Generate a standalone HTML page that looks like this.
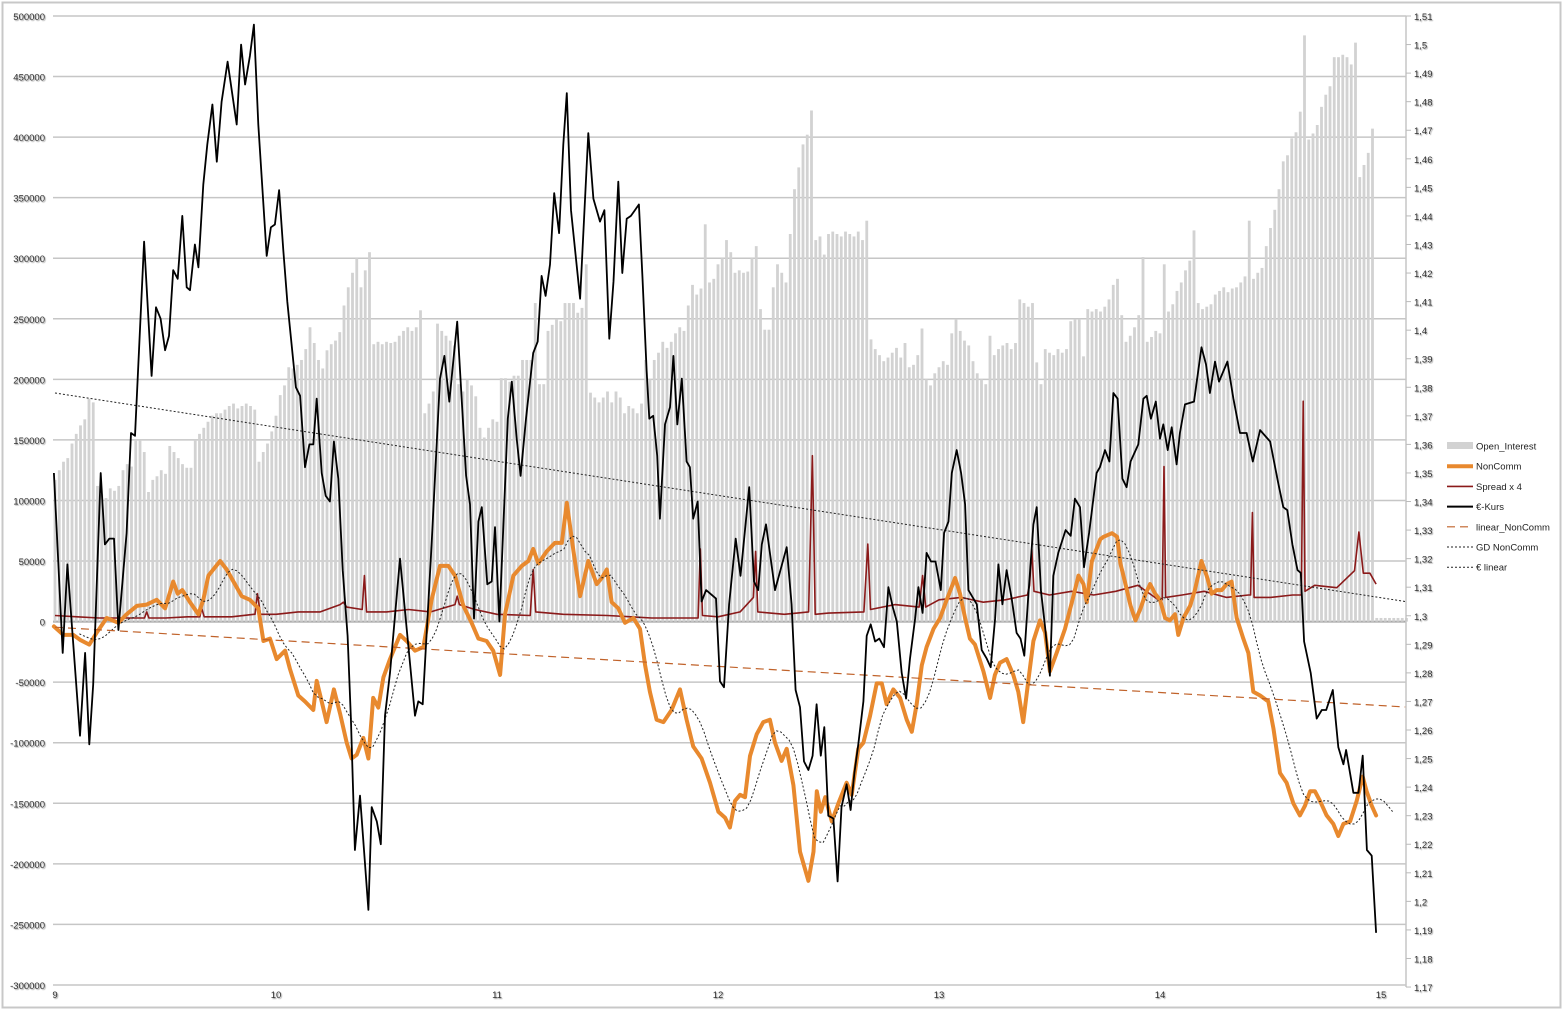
<!DOCTYPE html>
<html><head><meta charset="utf-8"><style>
html,body{margin:0;padding:0;background:#fff;}
svg{display:block;font-family:"Liberation Sans",sans-serif;}
</style></head><body>
<svg id="chart" width="1564" height="1012" viewBox="0 0 1564 1012" xmlns="http://www.w3.org/2000/svg">
<rect x="2.5" y="2.5" width="1558" height="1005" fill="#fff" stroke="#c8c8c8" stroke-width="2"/>
<g id="grid"></g>
<g id="bars"></g>
<g id="lines"></g>
<g id="axes"></g>
<g id="legend"></g>
</svg>
<script>
// ---- data ----
const leftTicks = [500000,450000,400000,350000,300000,250000,200000,150000,100000,50000,0,-50000,-100000,-150000,-200000,-250000,-300000];
const rightTicks = [1.51,1.50,1.49,1.48,1.47,1.46,1.45,1.44,1.43,1.42,1.41,1.40,1.39,1.38,1.37,1.36,1.35,1.34,1.33,1.32,1.31,1.30,1.29,1.28,1.27,1.26,1.25,1.24,1.23,1.22,1.21,1.20,1.19,1.18,1.17];
const xTicks = [9,10,11,12,13,14,15];
const oiStartYear = 9;
const oiValues = [117,125,132,135,147,155,162,167,184,181,112,105,102,110,108,112,125,130,128,150,150,140,107,117,120,125,122,145,140,135,130,127,127,150,155,160,165,170,172,172,175,178,180,176,178,180,178,175,132,140,147,157,
170,187,195,210,209,212,216,225,243,230,216,209,224,229,232,239,261,276,288,300,276,290,305,229,231,229,231,230,231,236,240,243,240,243,257,172,180,190,246,240,236,232,228,196,190,200,195,186,160,152,160,167,
165,201,201,198,203,203,216,216,216,263,196,196,240,245,250,248,263,263,263,255,259,295,189,185,181,185,190,181,190,185,172,178,176,172,180,216,200,216,222,231,226,231,238,243,240,261,278,270,275,328,280,283,
295,300,315,305,288,290,288,289,300,310,258,241,241,276,295,288,280,320,357,375,394,402,422,315,318,303,320,322,320,318,322,320,318,322,315,331,233,225,220,215,218,222,226,218,230,210,212,220,242,200,195,205,
210,215,212,238,250,240,232,228,215,205,200,196,236,220,225,228,230,225,230,266,263,260,263,214,196,225,222,220,225,222,225,248,250,250,219,258,256,258,256,260,266,278,283,253,231,236,243,253,301,231,235,240,
238,295,256,262,273,280,290,298,323,263,258,260,262,270,273,276,272,275,276,280,285,331,283,288,292,310,325,340,357,380,385,399,404,421,484,398,403,410,425,435,442,466,466,468,466,460,478,367,377,387,407,
3,3,3,3,3,3,3,3];
const euroDates = [8.995,9.035,9.056,9.113,9.136,9.155,9.173,9.207,9.226,9.246,9.267,9.287,9.324,9.344,9.362,9.403,9.437,9.457,9.478,9.498,9.516,9.535,9.555,9.576,9.596,9.611,9.633,9.649,9.671,9.689,9.712,9.732,9.754,9.781,9.822,9.842,9.860,9.882,9.900,9.920,9.958,9.977,9.995,10.014,10.033,10.051,10.090,10.109,10.131,10.151,10.169,10.184,10.207,10.225,10.244,10.262,10.282,10.302,10.324,10.339,10.357,10.380,10.418,10.433,10.456,10.474,10.493,10.516,10.561,
10.629,10.644,10.664,10.704,10.742,10.762,10.784,10.820,10.860,10.878,10.896,10.916,10.931,10.956,10.976,10.991,11.011,11.049,11.067,11.089,11.107,11.131,11.164,11.184,11.202,11.220,11.240,11.259,11.281,11.300,11.316,11.335,11.376,11.413,11.436,11.466,11.486,11.508,11.527,11.549,11.567,11.587,11.606,11.642,11.658,11.677,11.689,11.707,11.725,11.737,11.760,11.783,11.798,11.816,11.836,11.858,11.873,11.888,11.908,11.926,11.946,11.991,12.009,12.027,12.050,12.080,12.102,12.141,
12.163,12.182,12.198,12.217,12.258,12.311,12.333,12.351,12.371,12.389,12.409,12.428,12.446,12.465,12.481,12.499,12.522,12.541,12.559,12.582,12.600,12.617,12.635,12.658,12.673,12.691,12.711,12.730,12.751,12.771,12.791,12.809,12.831,12.851,12.869,12.892,12.907,12.926,12.944,12.964,12.984,13.008,13.023,13.043,13.058,13.080,13.100,13.118,13.133,13.171,13.193,13.216,13.234,13.254,13.269,13.287,13.306,13.329,13.351,13.369,13.386,13.404,13.427,13.442,13.461,13.480,13.502,13.517,13.540,13.573,13.596,13.615,13.638,13.656,13.679,13.713,13.728,
13.751,13.771,13.789,13.808,13.830,13.849,13.867,13.902,13.925,13.940,13.959,13.981,14.000,14.015,14.035,14.053,14.075,14.090,14.113,14.154,14.188,14.208,14.226,14.249,14.267,14.305,14.332,14.362,14.392,14.420,14.453,14.498,14.536,14.558,14.576,14.599,14.622,14.637,14.652,14.682,14.709,14.732,14.752,14.782,14.807,14.830,14.842,14.875,14.898,14.917,14.936,14.958,14.978];
const euroValues = [1.350,1.287,1.318,1.258,1.287,1.255,1.276,1.350,1.325,1.327,1.327,1.295,1.329,1.364,1.363,1.431,1.384,1.408,1.404,1.393,1.398,1.421,1.418,1.440,1.415,1.414,1.430,1.422,1.451,1.465,1.479,1.459,1.480,1.494,1.472,1.500,1.486,1.496,1.507,1.472,1.426,1.436,1.437,1.449,1.428,1.410,1.380,1.377,1.352,1.360,1.360,1.376,1.350,1.342,1.340,1.361,1.348,1.316,1.293,1.264,1.218,1.237,1.197,1.233,1.228,1.220,1.265,1.280,1.320,
1.265,1.270,1.269,1.325,1.383,1.391,1.375,1.403,1.349,1.339,1.299,1.333,1.338,1.311,1.312,1.331,1.298,1.369,1.382,1.362,1.349,1.369,1.392,1.396,1.419,1.412,1.423,1.448,1.434,1.465,1.483,1.442,1.411,1.469,1.446,1.438,1.442,1.397,1.417,1.452,1.420,1.439,1.440,1.444,1.419,1.386,1.369,1.370,1.356,1.334,1.367,1.373,1.391,1.367,1.383,1.354,1.352,1.334,1.340,1.305,1.309,1.306,1.277,1.275,1.304,1.327,1.314,1.345,
1.312,1.309,1.325,1.332,1.309,1.324,1.304,1.274,1.268,1.249,1.246,1.251,1.269,1.251,1.261,1.230,1.229,1.207,1.233,1.241,1.232,1.245,1.255,1.270,1.293,1.297,1.291,1.292,1.289,1.310,1.303,1.298,1.280,1.271,1.285,1.299,1.310,1.301,1.322,1.319,1.319,1.309,1.329,1.333,1.350,1.358,1.350,1.339,1.309,1.304,1.288,1.285,1.282,1.299,1.318,1.304,1.316,1.306,1.294,1.292,1.286,1.307,1.332,1.338,1.309,1.296,1.279,1.314,1.322,1.330,1.328,1.341,1.338,1.317,1.329,1.350,1.352,
1.358,1.354,1.378,1.376,1.348,1.345,1.354,1.360,1.376,1.377,1.369,1.375,1.362,1.367,1.358,1.366,1.353,1.364,1.374,1.375,1.394,1.388,1.378,1.389,1.382,1.389,1.376,1.364,1.364,1.354,1.365,1.361,1.346,1.338,1.337,1.325,1.316,1.315,1.291,1.280,1.264,1.267,1.267,1.274,1.254,1.248,1.253,1.238,1.238,1.251,1.218,1.216,1.189];
const ncDates = [8.995,9.038,9.083,9.113,9.155,9.189,9.234,9.287,9.324,9.370,9.415,9.460,9.498,9.535,9.555,9.576,9.611,9.649,9.671,9.694,9.747,9.777,9.814,9.845,9.882,9.920,9.943,9.973,10.003,10.041,10.063,10.101,10.131,10.169,10.184,10.207,10.229,10.262,10.290,10.320,10.342,10.365,10.395,10.418,10.440,10.463,10.486,10.516,10.561,
10.591,10.629,10.667,10.704,10.742,10.780,10.810,10.848,10.885,10.916,10.953,10.983,11.014,11.036,11.074,11.112,11.142,11.164,11.187,11.225,11.262,11.293,11.316,11.346,11.376,11.413,11.451,11.474,11.497,11.519,11.549,11.579,11.617,11.647,11.670,11.692,11.722,11.753,11.790,11.828,11.858,11.888,11.926,11.964,12.002,12.032,12.054,12.077,12.100,12.122,12.145,
12.175,12.205,12.235,12.258,12.288,12.311,12.341,12.371,12.409,12.432,12.447,12.465,12.485,12.515,12.545,12.582,12.605,12.635,12.658,12.688,12.718,12.741,12.763,12.793,12.824,12.854,12.877,12.899,12.922,12.944,12.975,13.005,13.035,13.073,13.095,13.118,13.140,13.163,13.201,13.231,13.253,13.276,13.306,13.336,13.359,13.381,13.404,13.427,13.457,13.480,13.502,13.532,13.570,13.608,13.631,13.654,13.669,13.692,13.730,
13.745,13.783,13.806,13.821,13.844,13.867,13.889,13.912,13.935,13.955,13.978,14.000,14.023,14.045,14.068,14.083,14.106,14.136,14.158,14.188,14.211,14.234,14.256,14.279,14.302,14.324,14.347,14.377,14.400,14.422,14.453,14.490,14.513,14.543,14.573,14.603,14.633,14.656,14.679,14.701,14.724,14.754,14.784,14.807,14.830,14.860,14.890,14.917,14.935,14.958,14.978];
const ncValues = [-4,-11,-11,-15,-19,-9,3,-1,6,13,14,18,11,33,23,26,16,6,18,38,50,43,31,21,18,11,-16,-14,-31,-24,-39,-61,-66,-73,-49,-66,-83,-56,-76,-100,-113,-110,-96,-113,-63,-71,-46,-31,-11,
-16,-24,-21,18,46,46,38,13,-1,-14,-16,-24,-44,6,38,46,50,60,48,58,65,65,98,58,21,50,31,36,43,16,11,-1,3,-6,-36,-58,-81,-83,-73,-56,-81,-103,-113,-133,-157,-162,-170,-148,-143,-145,-111,
-93,-83,-81,-100,-115,-105,-135,-190,-214,-190,-140,-157,-145,-165,-150,-133,-143,-105,-100,-78,-51,-51,-68,-56,-63,-81,-91,-68,-36,-21,-6,3,18,36,23,3,-14,-19,-41,-63,-44,-34,-31,-44,-58,-83,-49,-16,1,-9,-41,-26,-6,21,38,31,16,50,68,
70,73,70,48,31,13,1,11,23,31,23,18,3,1,6,-11,3,13,26,50,38,23,26,26,31,33,3,-14,-26,-58,-61,-66,-88,-125,-133,-150,-160,-152,-140,-140,-148,-160,-167,-177,-167,-165,-148,-128,-140,-152,-160];
const spreadDates = [9.0,9.1,9.2,9.3,9.4,9.405,9.415,9.425,9.5,9.6,9.655,9.664,9.675,9.8,9.9,9.905,9.916,9.93,10.0,10.1,10.2,10.29,10.305,10.32,10.39,10.40,10.41,10.5,10.6,10.7,10.81,10.82,10.83,10.9,11.0,11.15,11.164,11.175,11.3,11.5,11.7,11.9,11.91,11.92,11.93,12.0,12.1,12.16,12.17,12.18,12.3,12.41,12.427,12.44,12.5,12.66,12.678,12.69,12.8,12.91,12.926,12.94,13.0,13.1,13.2,13.3,13.4,13.41,13.42,13.43,13.5,13.6,13.7,13.8,13.9,14.0,14.01,14.018,14.026,14.1,14.2,14.3,14.4,14.41,14.418,14.426,14.5,14.6,14.64,14.648,14.656,14.7,14.8,14.88,14.9,14.92,14.95,14.978];
const spreadValues = [5,4,3,3,3,3,8,3,3,4,4,11,4,4,6,6,23,6,6,8,8,14,16,12,10,38,8,8,10,8,14,21,14,10,6,5,43,8,6,5,3,3,3,60,5,4,8,20,58,8,6,8,137,6,7,8,64,10,14,12,38,12,18,20,16,18,22,30,60,25,22,25,22,25,30,17,18,128,20,22,25,20,22,22,90,20,20,22,22,182,25,30,28,42,74,40,40,31];
const trendDates = [9.0,15.11];
const euroTrend = [1.378,1.305];
const ncTrend = [-4.6,-70.5];
const gdWindowWeeks = 6;

// ---- scales ----
const NS='http://www.w3.org/2000/svg';
const xS = y => 55 + (y - 9) * 221;
const yL = k => 621.6 - k * 1.2112;          // value in thousands
const yR = e => 16 + (1.51 - e) * 2856;
function mk(tag, attrs, parent){const e=document.createElementNS(NS,tag);for(const a in attrs)e.setAttribute(a,attrs[a]);parent.appendChild(e);return e;}
const grid=document.getElementById('grid'), bars=document.getElementById('bars'), lines=document.getElementById('lines'), axes=document.getElementById('axes'), legend=document.getElementById('legend');

// gridlines + left labels
leftTicks.forEach(v=>{
  const y=yL(v/1000);
  const l=mk('line',{x1:53,x2:1406,y1:y,y2:y,stroke:v===0?'#a8a8a8':'#c6c6c6','stroke-width':v===0?2:1.5},grid);
  
  
  const t=mk('text',{x:45,y:y+4,'text-anchor':'end','font-size':9.5,fill:'#333',style:'text-shadow:1px 1px 1px #999'},axes);
  t.textContent=String(v);
  
  
});
// right axis
const ra=mk('line',{x1:1406,x2:1406,y1:16,y2:987,stroke:'#c6c6c6','stroke-width':1.5},axes);


rightTicks.forEach(v=>{
  const y=yR(v);
  mk('line',{x1:1406,x2:1411,y1:y,y2:y,stroke:'#bbb','stroke-width':1},axes);
  const t=mk('text',{x:1414,y:y+4,'font-size':9.5,fill:'#333',style:'text-shadow:1px 1px 1px #999'},axes);
  t.textContent=String(+v.toFixed(2)).replace('.',',');
  
  
});
xTicks.forEach(v=>{
  const t=mk('text',{x:xS(v),y:998,'text-anchor':'middle','font-size':9.5,fill:'#333',style:'text-shadow:1px 1px 1px #999'},axes);
  t.textContent=String(v);
  
  
});

// bars
oiValues.forEach((v,i)=>{
  const x=xS(oiStartYear+i/52);
  const r=mk('rect',{x:x-1.4,y:yL(v),width:2.8,height:Math.max(0,yL(0)-yL(v)),fill:'#d2d2d2'},bars);
  
  
});

function pathFrom(ds,vs,ys){return ds.map((d,i)=>(i?'L':'M')+xS(d).toFixed(1)+' '+ys(vs[i]).toFixed(1)).join(' ');}
function interp(ds,vs,t){if(t<=ds[0])return vs[0];for(let i=1;i<ds.length;i++){if(t<=ds[i]){const f=(t-ds[i-1])/(ds[i]-ds[i-1]);return vs[i-1]+f*(vs[i]-vs[i-1]);}}return vs[vs.length-1];}

// spread
const sp=mk('path',{d:pathFrom(spreadDates,spreadValues,yL),fill:'none',stroke:'#8b1a1a','stroke-width':1.6,'stroke-linejoin':'round'},lines);


// NonComm
const nc=mk('path',{d:pathFrom(ncDates,ncValues,yL),fill:'none',stroke:'#e8892e','stroke-width':4,'stroke-linejoin':'round','stroke-linecap':'round'},lines);


// GD NonComm (moving average of NonComm)
const gdD=[],gdV=[];
for(let t=ncDates[0]+gdWindowWeeks/52;t<=ncDates[ncDates.length-1]+0.08;t+=1/52){
  let s=0;for(let k=0;k<gdWindowWeeks;k++)s+=interp(ncDates,ncValues,t-k/52-0.01);
  gdD.push(t);gdV.push(s/gdWindowWeeks);
}
const gd=mk('path',{d:pathFrom(gdD,gdV,yL),fill:'none',stroke:'#222','stroke-width':1,'stroke-dasharray':'2,2'},lines);


// trends
const lt=mk('path',{d:pathFrom(trendDates,ncTrend,yL),fill:'none',stroke:'#c0622a','stroke-width':1.2,'stroke-dasharray':'8,5'},lines);


const et=mk('path',{d:pathFrom(trendDates,euroTrend,yR),fill:'none',stroke:'#222','stroke-width':1,'stroke-dasharray':'2,2'},lines);


// euro
const eu=mk('path',{d:pathFrom(euroDates,euroValues,yR),fill:'none',stroke:'#000','stroke-width':1.8,'stroke-linejoin':'round'},lines);



// legend
const legItems=[['Open_Interest','bar'],['NonComm','#e8892e|4|'],['Spread x 4','#8b1a1a|1.6|'],['€-Kurs','#000|2|'],['linear_NonComm','#c0622a|1.2|8,5'],['GD NonComm','#222|1|2,2'],['€ linear','#222|1|2,2']];
legItems.forEach((it,i)=>{
  const y=446+i*20.2;
  const g=mk('g',{},legend);
  
  
  if(it[1]==='bar'){mk('rect',{x:1447,y:y-4,width:26,height:7,fill:'#d2d2d2'},g);}
  else{const p=it[1].split('|');const a={x1:1447,x2:1473,y1:y,y2:y,stroke:p[0],'stroke-width':p[1]};if(p[2])a['stroke-dasharray']=p[2];mk('line',a,g);}
  const t=mk('text',{x:1476,y:y+3.5,'font-size':9.5,fill:'#222'},g);
  t.textContent=it[0];
});
</script>
</body></html>
